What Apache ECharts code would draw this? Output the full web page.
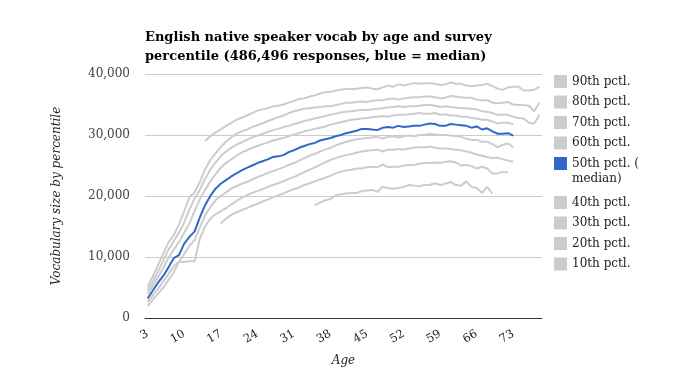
<!DOCTYPE html>
<html>
<head>
<meta charset="utf-8">
<script src="https://cdn.jsdelivr.net/npm/echarts@6/dist/echarts.min.js"></script>
<style>
html,body{margin:0;padding:0;background:#fff;}
#chart{width:691px;height:388px;}
</style>
</head>
<body>
<div id="chart"></div>
<script>
// Ages 3..78
var ages = [];
for (var a = 3; a <= 78; a++) ages.push(String(a));

var seriesNames = ['90th pctl.', '80th pctl.', '70th pctl.', '60th pctl.', '50th pctl. (median)', '40th pctl.', '30th pctl.', '20th pctl.', '10th pctl.'];

var p90 = [null,null,null,null,null,null,null,null,null,null,null,
  29000,29800,30400,30900,31500,32000,32500,32800,33200,33600,34000,34200,34400,34700,34800,35000,35300,35600,35900,36000,
  36300,36500,36800,37000,37100,37300,37400,37600,37500,37600,37700,37800,37600,37500,37800,38100,37900,38300,38100,38300,
  38500,38400,38500,38500,38400,38200,38300,38600,38400,38400,38100,38000,38100,38200,38400,38000,37600,37400,37800,37900,
  37900,37300,37300,37400,37900];

var p80 = [5100,6800,8700,10600,12400,13600,15300,17500,19800,20600,22300,24400,25900,27000,28000,28900,29600,30200,30600,30900,
  31300,31600,31900,32300,32600,32900,33200,33600,33900,34100,34300,34400,34500,34600,34700,34700,34900,35100,35300,35300,
  35400,35500,35400,35600,35700,35700,35900,36000,35800,36000,36100,36200,36200,36300,36300,36200,36000,36100,36400,36300,
  36200,36100,36100,35800,35700,35700,35300,35200,35300,35400,35000,34900,34900,34800,33900,35300];

var p70 = [4600,6000,7600,9400,11200,12600,14000,15600,17800,19600,21000,22800,24300,25500,26500,27300,27900,28400,28800,29200,
  29600,29900,30200,30500,30800,31000,31300,31500,31800,32000,32300,32500,32700,32900,33100,33300,33500,33700,33800,33900,
  34000,34100,34100,34200,34300,34400,34500,34600,34700,34600,34700,34700,34800,34900,34900,34800,34600,34700,34600,34500,
  34400,34400,34300,34200,33900,33800,33600,33300,33300,33300,33000,32800,32700,32000,31900,33300];

var p60 = [4000,5300,6700,8200,9900,11200,12400,14000,15500,17500,19500,21000,22400,23600,24600,25400,26000,26600,27100,27500,
  27900,28200,28500,28800,29100,29300,29500,29800,30100,30300,30600,30800,31000,31200,31400,31700,31900,32100,32300,32500,
  32600,32700,32800,32900,33000,33100,33000,33200,33300,33300,33400,33500,33600,33500,33500,33600,33300,33400,33200,33200,
  33000,33000,32800,32700,32500,32500,32200,31900,32000,32000,31700,null,null,null,null,null];

var p50 = [3200,4500,5800,6900,8300,9800,10300,12200,13300,14200,16500,18500,20000,21200,22000,22600,23200,23700,24200,24600,
  25000,25400,25700,26000,26400,26500,26700,27200,27500,27900,28200,28500,28700,29100,29300,29500,29800,30000,30300,30500,
  30700,31000,31000,30900,30800,31200,31300,31200,31500,31300,31400,31500,31500,31700,31900,31800,31500,31500,31800,31700,
  31600,31500,31200,31400,30900,31100,30600,30200,30200,30300,29900,null,null,null,null,null];

var p40 = [2600,3700,4800,6000,7200,8500,9200,10500,11800,12800,14800,16800,18200,19300,20000,20600,21200,21600,22000,22300,
  22700,23100,23400,23800,24100,24400,24700,25100,25400,25800,26200,26600,26900,27300,27600,27900,28300,28600,28900,29100,
  29300,29400,29500,29600,29700,29400,29700,29800,29600,29800,29900,29800,30000,30000,30200,30100,30000,30000,29900,29800,
  29700,29400,29200,29200,28900,28900,28500,28000,28400,28600,28000,null,null,null,null,null];

var p30 = [2000,3000,4000,5000,6200,7500,9200,9200,9300,9300,13000,15000,16300,17000,17500,18000,18600,19200,19700,20100,
  20500,20800,21100,21500,21800,22100,22400,22800,23100,23500,23900,24300,24700,25100,25500,25900,26200,26500,26700,26900,
  27100,27300,27400,27500,27600,27300,27600,27600,27700,27600,27800,27900,28000,28000,28100,27900,27800,27800,27700,27600,
  27500,27300,27100,26800,26600,26400,26200,26300,26000,25800,25600,null,null,null,null,null];

var p20 = [null,null,null,null,null,null,null,null,null,null,null,null,null,null,
  15500,16300,16900,17300,17700,18000,18400,18700,19100,19400,19800,20100,20400,20800,21100,21400,21800,22100,22400,22700,
  23000,23300,23700,24000,24200,24300,24500,24500,24700,24800,24700,25200,24700,24800,24800,25000,25100,25100,25300,25400,
  25400,25500,25400,25600,25700,25500,25000,25100,24900,24500,24800,24500,23700,23700,24000,23800,null,null,null,null,null,null];

var p10 = [null,null,null,null,null,null,null,null,null,null,null,null,null,null,null,null,null,null,null,null,
  null,null,null,null,null,null,null,null,null,null,null,null,
  18500,18900,19300,19500,20100,20300,20400,20500,20500,20800,20900,21000,20700,21500,21300,21200,21300,21500,21800,21700,
  21600,21800,21800,22100,21800,22000,22300,21800,21700,22400,21500,21300,20500,21500,20400,
  null,null,null,null,null,null,null,null,null];

var yTicks = [0, 10000, 20000, 30000, 40000];

var gray = '#cccccc';
var blue = '#3366cc';
var serif = '"DejaVu Serif", Georgia, serif';

var dataList = [p90, p80, p70, p60, p50, p40, p30, p20, p10];
var series = dataList.map(function (d, i) {
  var isMedian = i === 4;
  return {
    name: seriesNames[i],
    type: 'line',
    data: d,
    symbol: 'none',
    showSymbol: false,
    connectNulls: false,
    z: isMedian ? 5 : 2,
    lineStyle: { color: isMedian ? blue : gray, width: 2 },
    itemStyle: { color: isMedian ? blue : gray }
  };
});

function fmt(v) {
  return String(v).replace(/\B(?=(\d{3})+(?!\d))/g, ',');
}

var chart = echarts.init(document.getElementById('chart'), null, { renderer: 'canvas' });
var legendText = { fontFamily: serif, fontSize: 12, color: '#222', lineHeight: 13 };
chart.setOption({
  animation: false,
  backgroundColor: '#fff',
  title: {
    text: 'English native speaker vocab by age and survey\npercentile (486,496 responses, blue = median)',
    left: 145,
    top: 28,
    padding: 0,
    textStyle: { fontFamily: serif, fontSize: 13, fontWeight: 'bold', color: '#000', lineHeight: 19 }
  },
  legend: [
    {
      orient: 'vertical', left: 554, top: 75, padding: 0, itemGap: 7.5,
      itemWidth: 13, itemHeight: 13, icon: 'rect',
      data: seriesNames.slice(0, 4), textStyle: legendText, selectedMode: false
    },
    {
      orient: 'vertical', left: 554, top: 157, padding: 0, itemGap: 0,
      itemWidth: 13, itemHeight: 13, icon: 'rect',
      data: [seriesNames[4]],
      formatter: function () { return '50th pctl. ('; },
      textStyle: legendText,
      selectedMode: false
    },
    {
      orient: 'vertical', left: 554, top: 196, padding: 0, itemGap: 7.5,
      itemWidth: 13, itemHeight: 13, icon: 'rect',
      data: seriesNames.slice(5), textStyle: legendText, selectedMode: false
    }
  ],
  graphic: [
    {
      type: 'text', left: 572, top: 173,
      style: { text: 'median)', fontFamily: serif, fontSize: 12, fill: '#222' }
    }
  ],
  grid: { left: 145, right: 149, top: 74, bottom: 70, containLabel: false },
  xAxis: {
    type: 'category',
    data: ages,
    boundaryGap: true,
    name: 'Age',
    nameLocation: 'middle',
    nameGap: 37,
    nameTextStyle: { fontFamily: serif, fontStyle: 'italic', fontSize: 12, color: '#222' },
    axisLine: { lineStyle: { color: '#333', width: 1 } },
    axisTick: { show: false },
    axisLabel: { interval: 6, rotate: 30, margin: 15, fontFamily: serif, fontSize: 11.5, color: '#222' },
    splitLine: { show: false }
  },
  yAxis: {
    type: 'value',
    min: yTicks[0],
    max: yTicks[yTicks.length - 1],
    interval: yTicks[1] - yTicks[0],
    name: 'Vocabulary size by percentile',
    nameLocation: 'middle',
    nameGap: 82,
    nameRotate: 90,
    nameTextStyle: { fontFamily: serif, fontStyle: 'italic', fontSize: 12, color: '#222' },
    axisLine: { show: false },
    axisTick: { show: false },
    axisLabel: { margin: 15, fontFamily: serif, fontSize: 12, color: '#444', formatter: fmt },
    splitLine: { lineStyle: { color: '#cccccc', width: 1 } }
  },
  series: series
});
</script>
</body>
</html>
